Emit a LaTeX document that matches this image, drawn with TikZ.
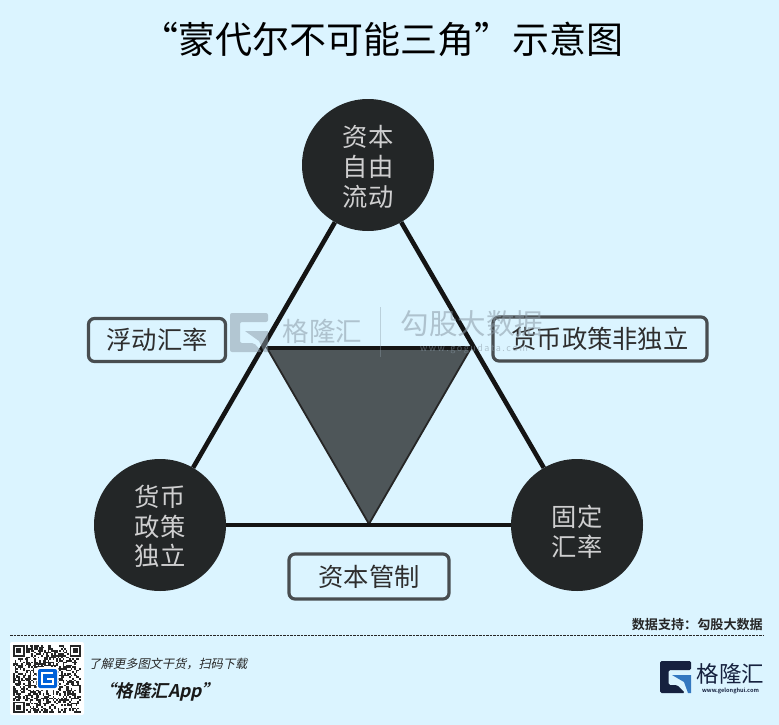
\documentclass[tikz,border=0pt]{standalone}
\usepackage{fontspec}
\setmainfont{Noto Sans CJK SC}
\newfontfamily\cjk{Noto Sans CJK SC}
\newfontfamily\cjkb{Noto Sans CJK SC Bold}
\newfontfamily\cjki[FakeSlant=0.22]{Noto Sans CJK SC}
\newfontfamily\cjkbi[FakeSlant=0.22]{Noto Sans CJK SC Bold}
\newcommand{\fsz}[1]{\fontsize{#1}{#1}\selectfont}
\definecolor{bg}{HTML}{DBF4FF}
\definecolor{disc}{HTML}{232627}
\definecolor{tri}{HTML}{4E5659}
\definecolor{frame}{HTML}{484D50}
\definecolor{navy}{HTML}{16213F}
\definecolor{lblue}{HTML}{3478C0}
\definecolor{wm}{HTML}{8A9AA6}
\tikzset{
  x=1pt,y=-1pt,
  circ/.style={circle,fill=disc,minimum size=132pt,inner sep=0pt},
  circtext/.style={inner sep=0pt,text=white!78!disc,font=\cjk\fsz{25.3}},
  lbl/.style={draw=frame,line width=3.2pt,rounded corners=6pt,fill=bg,text=black!82,font=\cjk\fsz{25.3},inner sep=0pt,anchor=center},
  link/.style={line width=4.6pt,black!92},
  wmtext/.style={text=wm,opacity=.55,inner sep=0pt},
}
\begin{document}
\begin{tikzpicture}
\useasboundingbox (0,0) rectangle (779,725);
\fill[bg] (0,0) rectangle (779,725);
\node[inner sep=0pt,font=\cjk\fsz{37}] (title) at (382,39) {“蒙代尔不可能三角”\hspace{1pt}示意图};
\coordinate (tl) at (267,348);
\coordinate (tr) at (471,348);
\coordinate (tb) at (369,524);
\node[circ] (top) at (368,165) {};
\node[circ] (left) at (160,525) {};
\node[circ] (right) at (577,525) {};
\draw[fill=tri,draw=black!85,line width=1.8pt,line join=miter] (tl) -- (tr) -- (tb) -- cycle;
\draw[link] (top) -- (left);
\draw[link] (top) -- (right);
\draw[link] (left) -- (right);
\draw[link] (tl) -- (tr);
\foreach \n/\x/\y/\t in {a/368/137/资本,b/368/167/自由,c/368/197/流动,d/160/497/货币,e/160/527/政策,f/160/556/独立,g/577/517/固定,h/577/547/汇率}
  \node[circtext] (t\n) at (\x,\y) {\t};
\node[lbl,minimum width=137pt,minimum height=43pt] (l1) at (157,340) {浮动汇率};
\node[lbl,minimum width=214pt,minimum height=44pt] (l2) at (600,339) {货币政策非独立};
\node[lbl,minimum width=160pt,minimum height=45pt] (l3) at (369,576.5) {资本管制};
% watermark
\begin{scope}[opacity=.5]
\fill[wm,rounded corners=2pt] (230,313) -- (268,313) -- (268,322) -- (240,322) -- (240,343) -- (254,343) -- (262,352) -- (230,352) -- cycle;
\fill[wm] (245,331) -- (268,331) -- (268,352) -- (264,352) -- (259,341) -- cycle;
\end{scope}
\node[wmtext,font=\cjk\fsz{26.5}] (w1) at (322.5,331) {格隆汇};
\draw[wm,opacity=.4,line width=.8pt] (380,307) -- (380,357);
\node[wmtext,font=\cjk\fsz{28.5}] (w2) at (472,324) {勾股大数据};
\node[wmtext,font=\cjk\fsz{9}] (w3) at (474,349.5) {w\,w\,w\,.\,g\,o\,g\,u\,d\,a\,t\,a\,.\,c\,o\,m};
% footer
\node[inner sep=0pt,anchor=east,font=\cjkb\fsz{13.1},text=black!85] (src) at (763,625) {数据支持：勾股大数据};
\coordinate (d1) at (10,635);
\coordinate (d2) at (763,635);
\draw[black!85,line width=.7pt,dash pattern=on 2.5pt off 1pt] (d1) -- (d2);
% QR
\fill[white,rounded corners=2pt] (10,642) rectangle (84,715);
\pgfmathsetseed{42}
\begin{scope}[shift={(13,645)}]
\foreach \i in {0,...,40}{\foreach \j in {0,...,40}{
  \pgfmathparse{rnd<0.5?1:0}
  \ifnum\pgfmathresult=1\fill[black!85] (\i*1.65,\j*1.65) rectangle ++(1.65,1.65);\fi
}}
\foreach \px/\py in {0/0,56.5/0,0/56.5}{
  \fill[white] (\px-1,\py-1) rectangle ++(13.5,13.5);
  \fill[black!85] (\px,\py) rectangle ++(11.5,11.5);
  \fill[white] (\px+1.7,\py+1.7) rectangle ++(8.1,8.1);
  \fill[black!85] (\px+3.4,\py+3.4) rectangle ++(4.7,4.7);
}
\end{scope}
\fill[white,rounded corners=2pt] (36.5,667) rectangle (58.5,690);
\fill[blue!55!cyan!85!black,rounded corners=2pt] (38,669) rectangle (57,688);
\draw[white,line width=2.2pt] (53,673) -- (42,673) -- (42,684) -- (53,684) -- (53,679) -- (47,679);
\node[inner sep=0pt,anchor=west,font=\cjki\fsz{12.2},text=black!85] (f1) at (88.5,664) {了解更多图文干货，扫码下载};
\node[inner sep=0pt,anchor=west,font=\cjkbi\fsz{17.5},text=black!90] (f2) at (98,692) {“格隆汇App”};
% logo
\fill[navy,rounded corners=1.5pt] (660,661) -- (691,661) -- (691,670) -- (668.5,670) -- (668.5,685) -- (677,685) -- (685,693) -- (660,693) -- cycle;
\fill[lblue] (672,675) -- (691,675) -- (691,693) -- (688,693) -- (684,682) -- cycle;
\node[inner sep=0pt,anchor=center,font=\cjk\fsz{22.5},text=navy] (f3) at (730.5,674) {格隆汇};
\node[inner sep=0pt,anchor=center,font=\cjkb\fsz{5.6},text=navy] (f4) at (730.5,691) {www.gelonghui.com};
\end{tikzpicture}
\end{document}
